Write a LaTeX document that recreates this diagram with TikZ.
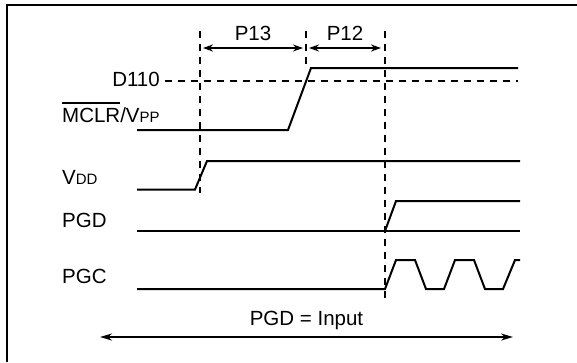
\documentclass[tikz,border=0pt]{standalone}
\usepackage{fontspec}
\setmainfont{Liberation Sans}
\usetikzlibrary{arrows.meta}
\newcommand{\lowpart}[1]{{\fontsize{15}{15}\selectfont #1}}
\newcommand{\notsig}[1]{\setbox0\hbox{#1}\rlap{\raisebox{\dimexpr\ht0+4pt}{\rule{\wd0}{1.5pt}}}\box0}

\begin{document}
\begin{tikzpicture}[x=1pt,y=-1pt,>={Stealth[length=10pt,width=7pt]},
  font=\fontsize{20.5}{24}\selectfont,
  sig/.style={line width=2pt},
  guide/.style={line width=2pt,dash pattern=on 7pt off 6pt},
  lbl/.style={anchor=base west,inner sep=0pt}]
\useasboundingbox (0,0) rectangle (577,362);
\draw[line width=2pt] (7,362) -- (7,5) -- (577,5);

% time marks
\coordinate (a0) at (200,31); \coordinate (a1) at (200,193);
\coordinate (b0) at (306,31); \coordinate (b1) at (306,68);
\coordinate (c0) at (385,31); \coordinate (c1) at (385,298);
\draw[guide] (a0) -- (a1);
\draw[guide] (b0) -- (b1);
\draw[guide] (c0) -- (c1);

\coordinate (p13l) at (203,48); \coordinate (p13r) at (303,48);
\coordinate (p12l) at (309,48); \coordinate (p12r) at (381,48);
\draw[<->,line width=2pt] (p13l) -- node[above=3pt] (p13) {P13} (p13r);
\draw[<->,line width=2pt] (p12l) -- node[above=3pt] (p12) {P12} (p12r);

% level
\node[anchor=base east,inner sep=0pt] (d110) at (160,86) {D110};
\coordinate (lvl) at (518,81);
\draw[guide] (165,81) -- (lvl);

% signal names
\node[lbl] (mclr) at (62,122) {\notsig{MCLR}/V\lowpart{PP}};
\node[lbl] (vdd) at (62,184.5) {V\lowpart{DD}};
\node[lbl] (pgd) at (62,227) {PGD};
\node[lbl] (pgc) at (62,283) {PGC};

% waveforms
\draw[sig] (137,130) -- (288,130) -- (311,68) -- (518,68);
\draw[sig] (137,189.5) -- (195,189.5) -- (207,161) -- (520,161);
\draw[sig] (137,231) -- (520,231);
\draw[sig] (385,231) -- (396,201) -- (520,201);
\draw[sig] (137,289) -- (385,289) -- (396,260) -- (415,260) -- (426,289)
  -- (444,289) -- (455,260) -- (474,260) -- (485,289) -- (503,289)
  -- (515,260) -- (520,260);

% direction
\coordinate (inl) at (100,337); \coordinate (inr) at (513,337);
\draw[<->,line width=2pt,>={Stealth[length=12pt,width=7pt]}] (inl) -- node[above=3pt] (mode) {PGD = Input} (inr);
\end{tikzpicture}
\end{document}
